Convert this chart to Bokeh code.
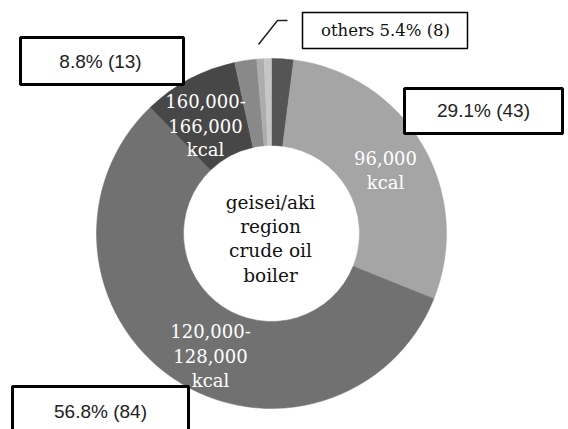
import math
from bokeh.plotting import figure
from bokeh.models import Range1d, ColumnDataSource
from bokeh.core.properties import value
from bokeh.embed import file_html
from bokeh.resources import INLINE

# ---- data ----
slices = ["others-a", "96,000 kcal", "120,000-128,000 kcal", "160,000-166,000 kcal",
          "others-b", "others-c", "others-d"]
counts = [3, 43, 84, 13, 3, 1, 1]
colors = ["#555555", "#a5a5a5", "#717171", "#474747", "#898989", "#adadad", "#c6c6c6"]
center_lines = ["geisei/aki", "region", "crude oil", "boiler"]
label_96 = ["96,000", "kcal"]
label_160 = ["160,000-", "166,000", "kcal"]
label_120 = ["120,000-", "128,000", "kcal"]
others_count = 8

W, H = 568, 429
p = figure(width=W, height=H, output_backend="svg", toolbar_location=None,
           x_range=Range1d(0, W), y_range=Range1d(0, H), min_border=0)
p.axis.visible = False
p.grid.visible = False
p.outline_line_color = None
p.background_fill_color = "white"
p.border_fill_color = "white"

cx, cy, r_out, r_in = 271, 196, 175, 88
total = sum(counts)
starts, ends = [], []
cum = 0
for c in counts:
    starts.append(math.pi / 2 - cum / total * 2 * math.pi)
    cum += c
    ends.append(math.pi / 2 - cum / total * 2 * math.pi)
src = ColumnDataSource(dict(start=starts, end=ends, color=colors, name=slices))
p.annular_wedge(x=cx, y=cy, inner_radius=r_in, outer_radius=r_out,
                start_angle="start", end_angle="end", direction="clock",
                fill_color="color", line_color="color", line_width=0.5, source=src)

serif = value("DejaVu Serif")

def lines(xs, ys, txts, color, size, font):
    p.text(x=xs, y=ys, text=txts, text_color=color, text_font=font,
           text_font_size=size, text_align="center", text_baseline="middle")

lines([270] * 4, [227, 203, 179, 154], center_lines, "#111111", "18.5px", serif)
lines([385] * 2, [272, 247], label_96, "white", "18px", serif)
lines([205] * 3, [329, 304, 280], label_160, "white", "18px", serif)
lines([210] * 3, [99, 74, 49], label_120, "white", "18px", serif)

def pct(c):
    return f"{c / total * 100:.1f}%"

# percentage boxes
boxes = [
    (20, 183, 345, 392, (100, 368), f"{pct(counts[3])} ({counts[3]})"),
    (404, 562, 296, 341, (483, 319), f"{pct(counts[1])} ({counts[1]})"),
    (12, 188, -11, 43, (100, 18), f"{pct(counts[2])} ({counts[2]})"),
]
for l, r, b, t, (tx, ty), txt in boxes:
    p.quad(left=l, right=r, bottom=b, top=t, fill_color="white", line_color="black", line_width=3)
    p.text(x=[tx], y=[ty], text=[txt], text_font=value("Liberation Sans"), text_font_size="19px",
           text_color="#222222", text_align="center", text_baseline="middle")

p.quad(left=302, right=467, bottom=381, top=417, fill_color="white", line_color="black", line_width=1.5)
p.text(x=[385], y=[399], text=[f"others {others_count / total * 100:.1f}% ({others_count})"],
       text_font=serif, text_font_size="16.5px", text_color="#111111",
       text_align="center", text_baseline="middle")
p.line(x=[258, 277, 287], y=[385, 409, 409], line_color="#222222", line_width=1.5)

open("out.html", "w").write(file_html(p, INLINE))
